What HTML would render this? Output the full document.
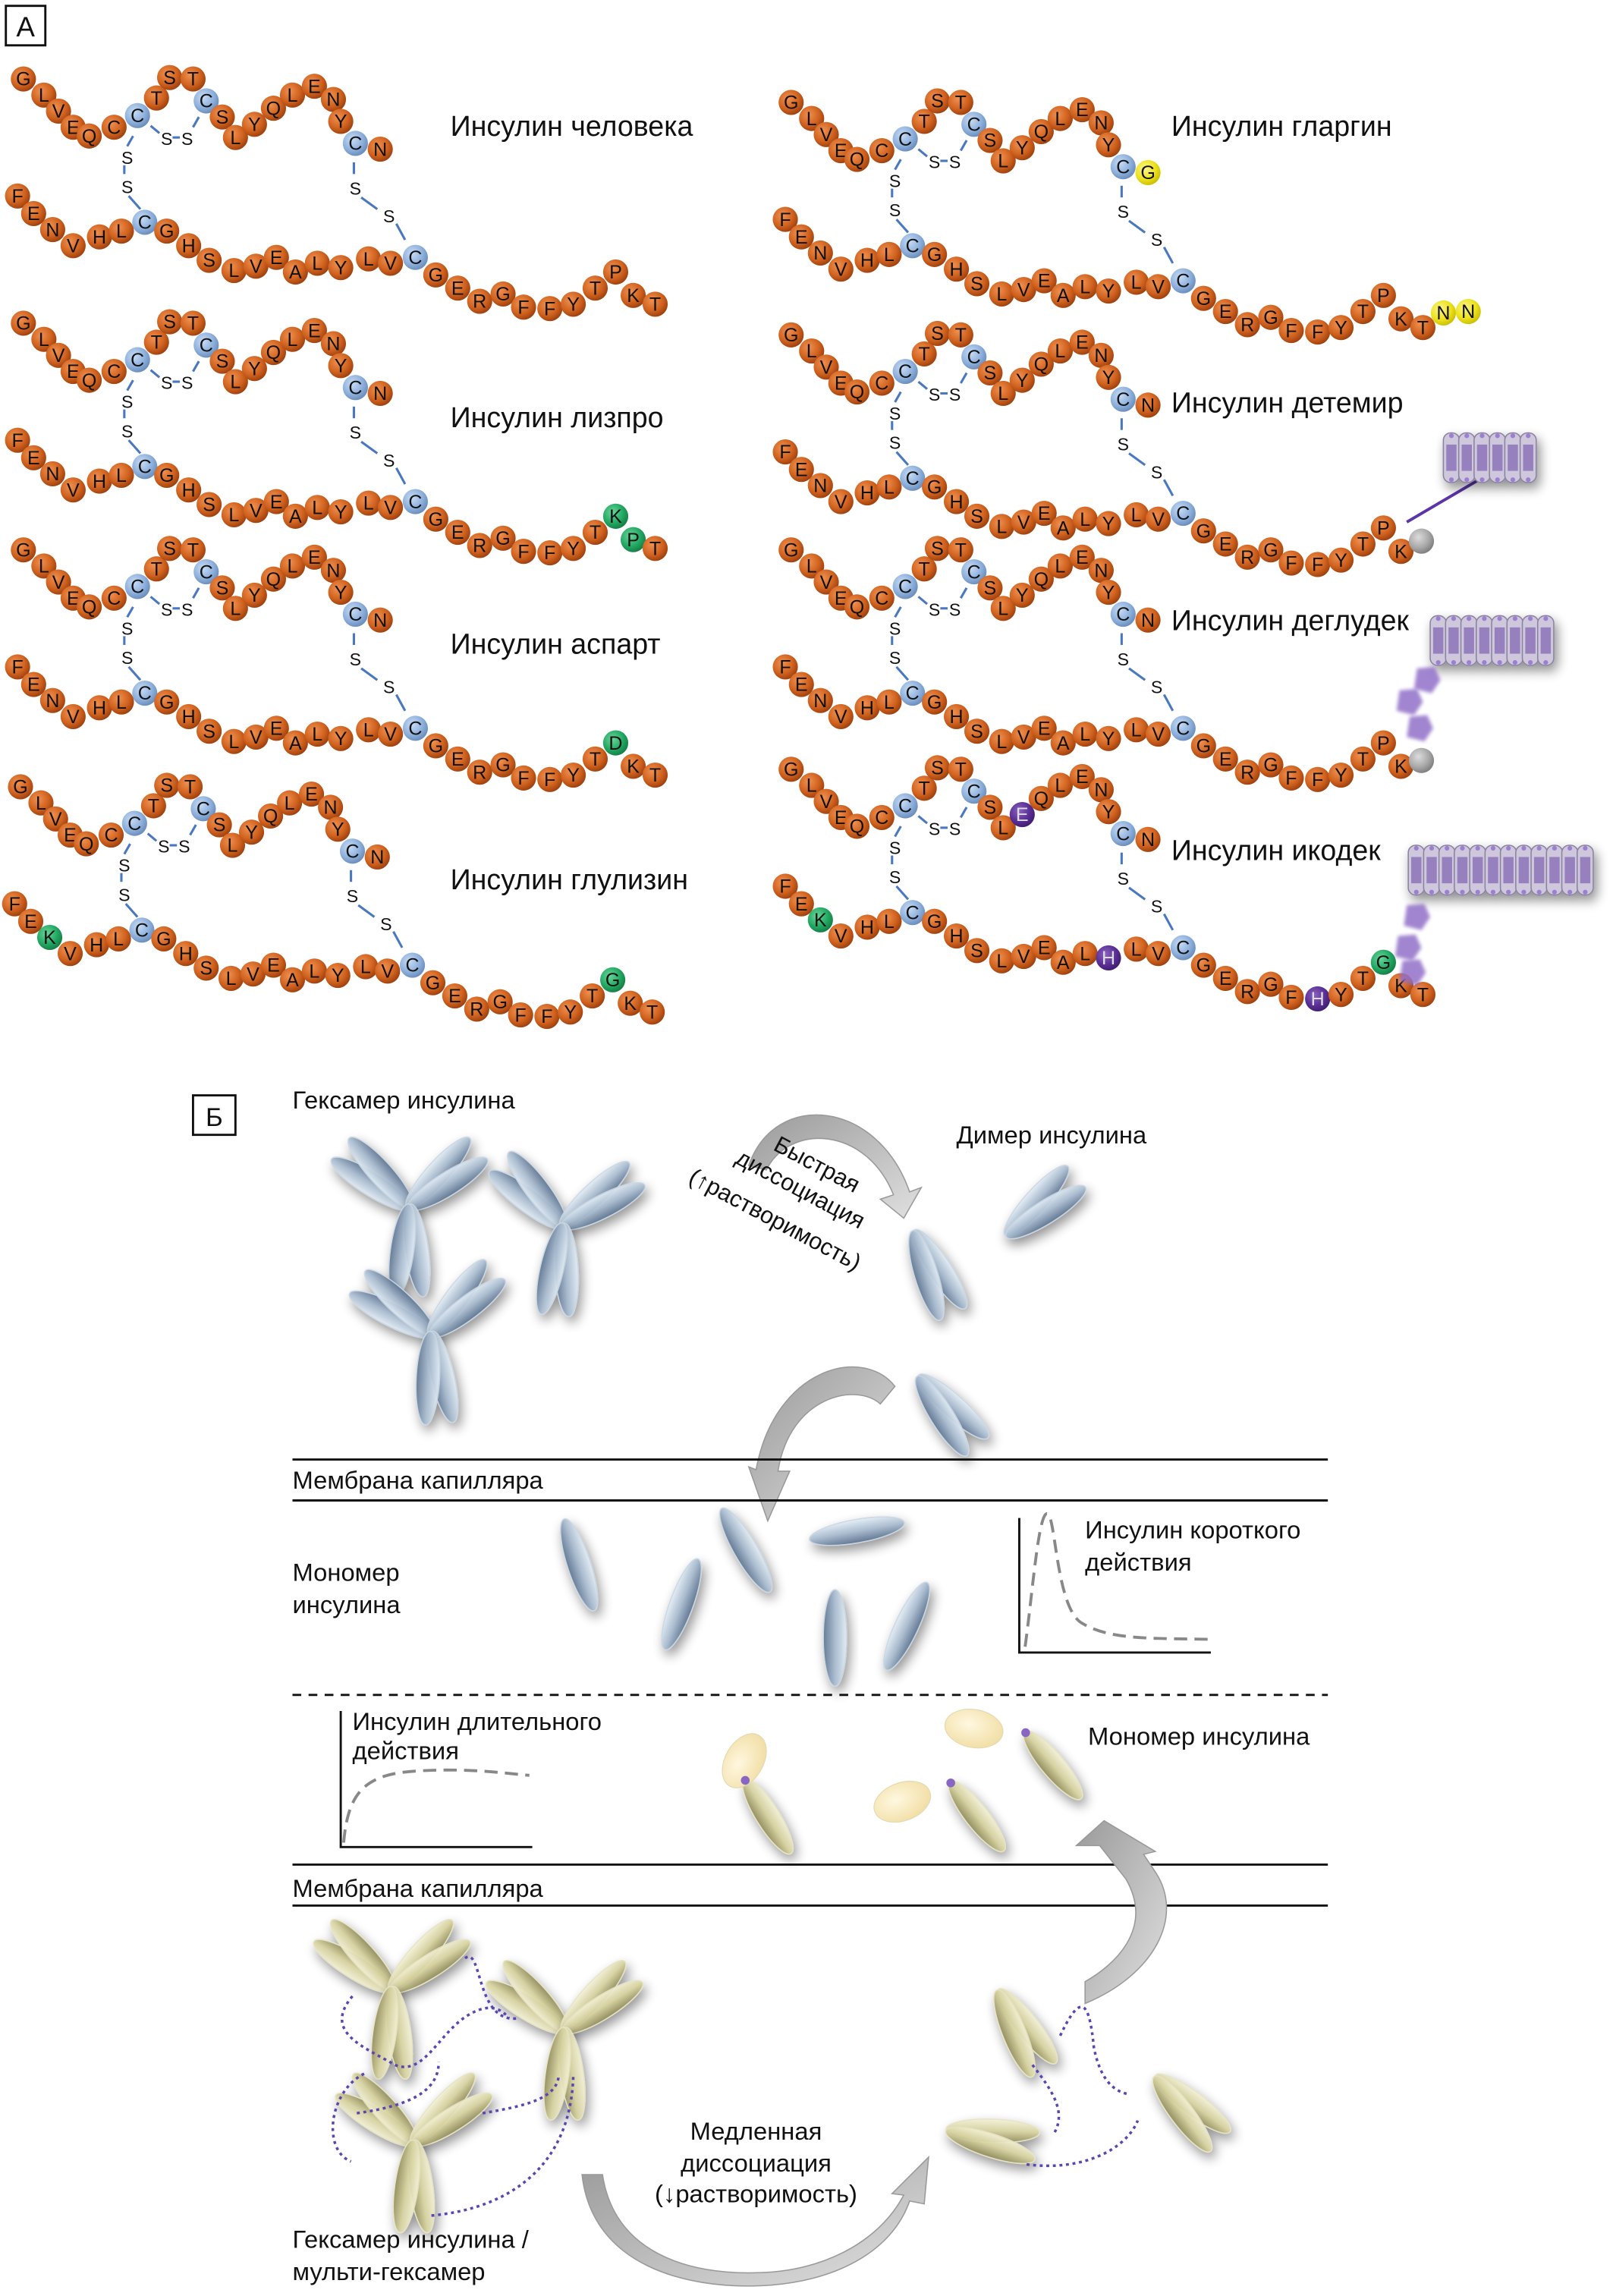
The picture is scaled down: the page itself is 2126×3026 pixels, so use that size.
<!DOCTYPE html>
<html><head><meta charset="utf-8">
<style>
html,body{margin:0;padding:0;background:#fff;}
svg{display:block;}
text{font-family:"Liberation Sans",sans-serif;}
</style></head>
<body>
<svg id="s" xmlns="http://www.w3.org/2000/svg" width="2126" height="3026" viewBox="0 0 1103 1570" preserveAspectRatio="none">
<defs>
<radialGradient id="go" cx="0.38" cy="0.35" r="0.7"><stop offset="0" stop-color="#f09050"/><stop offset="0.6" stop-color="#d0621f"/><stop offset="1" stop-color="#9a3d0c"/></radialGradient>
<radialGradient id="gb" cx="0.38" cy="0.35" r="0.7"><stop offset="0" stop-color="#c8dcf4"/><stop offset="0.6" stop-color="#8eb0dc"/><stop offset="1" stop-color="#6689b8"/></radialGradient>
<radialGradient id="gg" cx="0.38" cy="0.35" r="0.7"><stop offset="0" stop-color="#6ad69a"/><stop offset="0.6" stop-color="#22a862"/><stop offset="1" stop-color="#137a44"/></radialGradient>
<radialGradient id="gp" cx="0.38" cy="0.35" r="0.7"><stop offset="0" stop-color="#8a60c0"/><stop offset="0.6" stop-color="#5a2f94"/><stop offset="1" stop-color="#3e1b6e"/></radialGradient>
<radialGradient id="gy" cx="0.38" cy="0.35" r="0.7"><stop offset="0" stop-color="#fbf590"/><stop offset="0.6" stop-color="#ede21c"/><stop offset="1" stop-color="#c8bb00"/></radialGradient>
<radialGradient id="gs" cx="0.38" cy="0.35" r="0.7"><stop offset="0" stop-color="#dcdcdc"/><stop offset="0.6" stop-color="#a8a8a8"/><stop offset="1" stop-color="#7a7a7a"/></radialGradient>
<linearGradient id="blu" x1="0" y1="0" x2="0" y2="1"><stop offset="0" stop-color="#e4eef6"/><stop offset="0.5" stop-color="#a9bcd0"/><stop offset="1" stop-color="#5c7390"/></linearGradient>
<linearGradient id="yel" x1="0" y1="0" x2="0" y2="1"><stop offset="0" stop-color="#f4f2d8"/><stop offset="0.5" stop-color="#d7d3a0"/><stop offset="1" stop-color="#8f8a58"/></linearGradient>
<radialGradient id="oval" cx="0.4" cy="0.4" r="0.7"><stop offset="0" stop-color="#fff8e0"/><stop offset="1" stop-color="#f0dca0"/></radialGradient>
<linearGradient id="arr" x1="0" y1="0" x2="1" y2="1"><stop offset="0" stop-color="#9a9a9a"/><stop offset="1" stop-color="#e0e0e0"/></linearGradient>
<filter id="sh" x="-50%" y="-50%" width="200%" height="200%"><feGaussianBlur in="SourceAlpha" stdDeviation="4"/><feOffset dx="2" dy="4"/><feComponentTransfer><feFuncA type="linear" slope="0.45"/></feComponentTransfer><feMerge><feMergeNode/><feMergeNode in="SourceGraphic"/></feMerge></filter>
<filter id="bl"><feGaussianBlur stdDeviation="1.2"/></filter>
</defs>
<g id="root"></g>
</svg>
<script>
var root=document.getElementById("root"),out="";
function add(s){out+=s;}
var A=[["G",16,54],["L",30,65],["V",40,76],["E",50,87],["Q",61,93],["C",78,87],["C",94,79,"b"],["T",107,67],["S",116,53],["T",132,54],["C",141,69,"b"],["S",152,80],["L",161,94],["Y",174,85],["Q",187,74],["L",200,65],["E",215,59],["N",228,68],["Y",233,83],["C",243,98,"b"],["N",260,102]];
var B=[["F",12,134],["E",23,146],["N",36,157],["V",50,168],["H",68,162],["L",83,158],["C",99,152,"b"],["G",114,158],["H",129,168],["S",143,178],["L",160,185],["V",175,182],["E",189,176],["A",202,186],["L",217,180],["Y",233,183],["L",252,177],["V",267,180],["C",284,176,"b"],["G",298,188],["E",313,197],["R",328,206],["G",344,201],["F",358,210],["F",376,211],["Y",392,208],["T",407,197],["P",421,186],["K",433,202],["T",448,208]];
var fills={o:"url(#go)",b:"url(#gb)",g:"url(#gg)",p:"url(#gp)",y:"url(#gy)",s:"url(#gs)"};
function bead(x,y,l,c){add('<circle cx="'+x+'" cy="'+y+'" r="8.6" fill="'+fills[c||"o"]+'"/>');if(l)add('<text x="'+x+'" y="'+(y+4.5)+'" font-size="13" text-anchor="middle" fill="'+(c=="p"?"#ddd":"#111")+'">'+l+'</text>');}
function ln(x1,y1,x2,y2){add('<line x1="'+x1+'" y1="'+y1+'" x2="'+x2+'" y2="'+y2+'" stroke="#4a78c0" stroke-width="1.6"/>');}
function st(x,y,t){add('<text x="'+x+'" y="'+y+'" font-size="12" text-anchor="middle" fill="#111">'+t+'</text>');}
function ins(dx,dy,amod,bmod,extra,label,lx,ly){
 var a=A.map(function(p,i){var m=amod[i]||[];return [m[0]||p[0],p[1]+dx,p[2]+dy,m[1]||p[3]];});
 var b=B.map(function(p,i){var m=bmod[i]||[];return [m[0]||p[0],p[1]+dx,p[2]+dy,m[1]||p[3]];});
 ln(91+dx,93+dy,87+dx,100+dy);ln(85+dx,113+dy,85+dx,119+dy);ln(88+dx,134+dy,96+dx,143+dy);
 ln(103+dx,86+dy,109+dx,91+dy);ln(118+dx,94+dy,123+dx,94+dy);ln(132+dx,87+dy,136+dx,80+dy);
 ln(242+dx,111+dy,242+dx,119+dy);ln(247+dx,135+dy,258+dx,143+dy);ln(271+dx,153+dy,277+dx,164+dy);
 st(114+dx,99+dy,"S");st(128+dx,99+dy,"S");st(87+dx,112+dy,"S");st(87+dx,132+dy,"S");st(243+dx,133+dy,"S");st(266+dx,152+dy,"S");
 for(var i=0;i<a.length;i++)bead(a[i][1],a[i][2],a[i][0],a[i][3]);
 for(var i=0;i<b.length;i++)if(b[i][0]!="-")bead(b[i][1],b[i][2],b[i][0],b[i][3]);
 (extra||[]).forEach(function(e){bead(e[1]+dx,e[2]+dy,e[0],e[3]);});
 add('<text x="'+lx+'" y="'+ly+'" font-size="19.5" fill="#111">'+label+'</text>');
}
ins(0,0,{},{},[],"Инсулин человека",308,93);
ins(0,167,{},{27:["K","g"],28:["P","g"]},[],"Инсулин лизпро",308,292);
ins(0,322,{},{27:["D","g"]},[],"Инсулин аспарт",308,447);
ins(-2,484,{},{2:["K","g"],27:["G","g"]},[],"Инсулин глулизин",308,608);
ins(525,16,{20:["G","y"]},{},[["N",462,198,"y"],["N",479,197,"y"]],"Инсулин гларгин",801,93);
ins(525,175,{},{29:["-"]},[],"Инсулин детемир",801,282);
ins(525,322,{},{29:["-"]},[],"Инсулин деглудек",801,431);
ins(525,472,{13:["E","p"]},{2:["K","g"],15:["H","p"],24:["H","p"],27:["G","g"]},[],"Инсулин икодек",801,588);
bead(972,370,"","s");bead(972,520,"","s");
add('<line x1="962" y1="357" x2="1025" y2="320" stroke="#5b35a8" stroke-width="2"/>');
function stack(x,y,n){add('<g filter="url(#sh)">');for(var i=0;i<n;i++){var xx=x+i*10.5;add('<rect x="'+xx+'" y="'+y+'" width="11" height="34" rx="5" fill="#cfc8dc" stroke="#8a82a0" stroke-width="0.8"/><rect x="'+(xx+2)+'" y="'+(y+8)+'" width="7" height="18" fill="#7d62b0" opacity="0.7"/><circle cx="'+(xx+5.5)+'" cy="'+(y+2)+'" r="1.6" fill="#9b7fd0"/><circle cx="'+(xx+5.5)+'" cy="'+(y+32)+'" r="1.6" fill="#9b7fd0"/>');}add('</g>');}
stack(987,296,6);stack(978,421,8);stack(963,578,12);
function crys(x,y){add('<polygon points="'+(x-6)+','+(y-8)+' '+(x+6)+','+(y-9)+' '+(x+10)+','+y+' '+(x+4)+','+(y+9)+' '+(x-8)+','+(y+6)+'" fill="#9270c8" opacity="0.85" filter="url(#bl)"/>');}
crys(975,465);crys(963,480);crys(970,498);crys(968,627);crys(962,648);crys(965,665);
add('<rect x="4" y="4" width="27" height="27" fill="none" stroke="#111" stroke-width="1.5"/><text x="17.5" y="25" font-size="19" text-anchor="middle" fill="#111">А</text>');
add('<rect x="132" y="749" width="29" height="27" fill="none" stroke="#111" stroke-width="1.5"/><text x="146.5" y="770" font-size="18" text-anchor="middle" fill="#111">Б</text>');
function T(x,y,t,s,anc){add('<text x="'+x+'" y="'+y+'" font-size="'+(s||17)+'" fill="#111"'+(anc?' text-anchor="'+anc+'"':'')+'>'+t+'</text>');}
function el(cx,cy,rx,ry,ang,g,op){add('<ellipse cx="'+cx+'" cy="'+cy+'" rx="'+rx+'" ry="'+ry+'" transform="rotate('+ang+' '+cx+' '+cy+')" fill="url(#'+g+')" stroke="'+(g=="blu"?"#c9d6e2":"#e6e3c4")+'" stroke-width="0.8" opacity="'+(op||0.92)+'"/>');}
function dimer(cx,cy,ang,g){add('<g filter="url(#sh)">');var r=ang*Math.PI/180,px=-Math.sin(r)*5,py=Math.cos(r)*5;el(cx-px,cy-py,32,8,ang-8,g);el(cx+px,cy+py,32,8,ang+8,g);add('</g>');}
function hexa(cx,cy,g,rot){[-140,-40,90].forEach(function(a){a+=rot;var r=a*Math.PI/180;dimer(cx+Math.cos(r)*30,cy+Math.sin(r)*30,a,g);});}
T(200,758,"Гексамер инсулина");T(654,782,"Димер инсулина");
hexa(280,825,"blu",0);hexa(385,838,"blu",5);hexa(295,912,"blu",-5);
dimer(712,825,-40,"blu");dimer(638,870,65,"blu");dimer(648,965,50,"blu");
add('<path d="M512,797 C530,745 600,752 622,815 L630,812 L618,833 L602,820 L611,817 C592,770 540,768 524,800 Z" fill="url(#arr)" stroke="#999" stroke-width="0.8"/>');
add('<text font-size="16" fill="#111" transform="translate(528,786) rotate(28)">Быстрая</text>');
add('<text font-size="16" fill="#111" transform="translate(502,795) rotate(28)">диссоциация</text>');
add('<text font-size="16" fill="#111" transform="translate(470,808) rotate(28)">(↑растворимость)</text>');
add('<path d="M612,948 C590,920 530,935 517,1005 L512,1003 L525,1040 L540,1006 L532,1006 C540,955 585,945 602,960 Z" fill="url(#arr)" stroke="#999" stroke-width="0.8"/>');
add('<line x1="200" y1="998" x2="908" y2="998" stroke="#111" stroke-width="1.5"/><line x1="200" y1="1026" x2="908" y2="1026" stroke="#111" stroke-width="1.5"/>');
T(200,1018,"Мембрана капилляра");
T(200,1081,"Мономер");T(200,1103,"инсулина");
function mono(cx,cy,ang,g){add('<g filter="url(#sh)">');el(cx,cy,33,8,ang,g);add('</g>');}
mono(396,1070,72,"blu");mono(466,1097,-70,"blu");mono(510,1060,60,"blu");mono(586,1047,-10,"blu");mono(571,1120,90,"blu");mono(620,1112,-65,"blu");
add('<path d="M697,1038 L697,1130 L828,1130" fill="none" stroke="#111" stroke-width="1.5"/>');
add('<path d="M701,1126 C706,1090 710,1035 716,1035 C722,1035 722,1100 740,1110 C760,1122 790,1120 828,1121" fill="none" stroke="#888" stroke-width="2" stroke-dasharray="9,5"/>');
T(742,1052,"Инсулин короткого");T(742,1074,"действия");
add('<line x1="200" y1="1159" x2="908" y2="1159" stroke="#111" stroke-width="1.5" stroke-dasharray="6,5"/>');
add('<path d="M233,1170 L233,1263 L364,1263" fill="none" stroke="#111" stroke-width="1.5"/>');
add('<path d="M235,1260 C238,1225 250,1213 285,1211 C320,1209 340,1212 362,1214" fill="none" stroke="#888" stroke-width="2" stroke-dasharray="9,5"/>');
T(241,1183,"Инсулин длительного");T(241,1203,"действия");
T(744,1193,"Мономер инсулина");
function ymono(cx,cy,ang,ox,oy,oa){add('<g filter="url(#sh)">');el(cx,cy,30,8,ang,"yel");add('</g>');add('<ellipse cx="'+ox+'" cy="'+oy+'" rx="20" ry="13" transform="rotate('+oa+' '+ox+' '+oy+')" fill="url(#oval)" stroke="#e4d9b0" stroke-width="0.6"/>');var r=ang*Math.PI/180;add('<circle cx="'+(cx-Math.cos(r)*29)+'" cy="'+(cy-Math.sin(r)*29)+'" r="3" fill="#8a66c4"/>');}
ymono(525,1242,58,509,1204,-60);ymono(720,1207,50,666,1182,10);ymono(668,1242,52,617,1232,-20);
add('<line x1="200" y1="1275" x2="908" y2="1275" stroke="#111" stroke-width="1.5"/><line x1="200" y1="1303" x2="908" y2="1303" stroke="#111" stroke-width="1.5"/>');
T(200,1297,"Мембрана капилляра");
hexa(268,1360,"yel",0);hexa(386,1388,"yel",0);hexa(283,1465,"yel",0);
var dots="fill='none' stroke='#5a46b0' stroke-width='1.8' stroke-dasharray='2,2.5'";
add("<path d='M318,1339 C330,1330 325,1385 355,1380' "+dots+"/>");
add("<path d='M241,1365 C220,1390 250,1400 270,1412 C290,1420 300,1390 320,1378 C330,1372 340,1370 348,1380' "+dots+"/>");
add("<path d='M249,1418 C225,1430 220,1470 240,1478' "+dots+"/>");
add("<path d='M244,1445 C280,1440 300,1430 300,1410' "+dots+"/>");
add("<path d='M330,1445 C360,1440 380,1435 382,1420' "+dots+"/>");
add("<path d='M295,1515 C350,1510 390,1480 392,1420' "+dots+"/>");
dimer(698,1388,60,"yel");dimer(678,1462,10,"yel");dimer(812,1442,45,"yel");
add("<path d='M725,1392 C740,1360 745,1370 748,1400 C752,1420 760,1430 772,1432' "+dots+"/>");
add("<path d='M706,1412 C720,1430 730,1445 720,1460' "+dots+"/>");
add("<path d='M702,1480 C740,1485 770,1470 778,1450' "+dots+"/>");
add('<path d="M742,1370 C790,1350 810,1310 790,1280 L782,1268 L790,1266 L755,1245 L736,1262 L752,1262 L770,1285 C790,1320 760,1345 742,1355 Z" fill="url(#arr)" stroke="#999" stroke-width="0.8"/>');
add('<path d="M398,1487 C405,1550 470,1565 520,1563 C570,1561 610,1540 622,1505 L632,1507 L635,1475 L610,1500 L618,1501 C600,1535 560,1553 520,1554 C470,1556 420,1540 412,1487 Z" fill="url(#arr)" stroke="#999" stroke-width="0.8"/>');
T(517,1463,"Медленная",17,"middle");T(517,1485,"диссоциация",17,"middle");T(517,1506,"(↓растворимость)",17,"middle");
T(200,1537,"Гексамер инсулина /");T(200,1559,"мульти-гексамер");
root.innerHTML=out;
</script>
</body></html>
